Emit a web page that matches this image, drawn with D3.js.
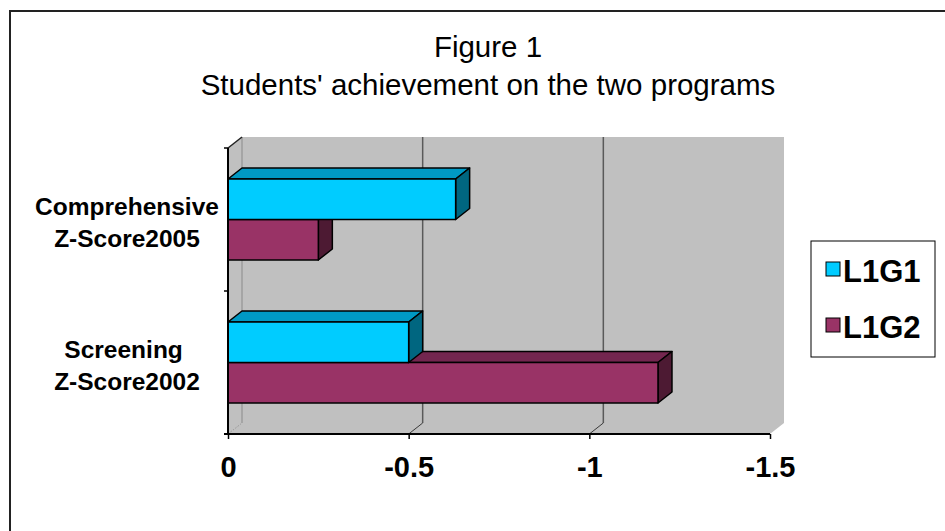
<!DOCTYPE html>
<html>
<head>
<meta charset="utf-8">
<script src="https://cdn.jsdelivr.net/npm/d3@7"></script>
<style>
  html, body { margin: 0; padding: 0; background: #fff; }
  svg { display: block; font-family: "Liberation Sans", Arial, Helvetica, sans-serif; }
</style>
</head>
<body>
<svg id="chart" width="945" height="531"></svg>
<script>
// Chart data
const titleLines = ["Figure 1", "Students' achievement on the two programs"];
const categories = [["Comprehensive", "Z-Score2005"], ["Screening ", "Z-Score2002"]];
const seriesNames = ["L1G1", "L1G2"];
const L1G1 = [-0.63, -0.50];
const L1G2 = [-0.25, -1.19];
const tickValues = [0, -0.5, -1, -1.5];
const tickLabels = ["0", "-0.5", "-1", "-1.5"];

const seriesValues = [L1G1, L1G2];
const colors = {
  front: ["#00CCFF", "#993366"],
  top:   ["#0099C4", "#73264F"],
  side:  ["#006680", "#4D1A33"]
};

const svg = d3.select("#chart");

// Outer chart frame
svg.append("rect")
  .attr("x", 10).attr("y", 11).attr("width", 960).attr("height", 560)
  .attr("fill", "#fff").attr("stroke", "#222").attr("stroke-width", 2);

// Geometry of the 3D plot box
const plotL = 228, plotR = 770, plotT = 148, plotB = 434;
const dx = 14, dy = -11;

const x = d3.scaleLinear().domain([0, -1.5]).range([plotL, plotR]);
const yCat = d3.scaleBand().domain(d3.range(categories.length))
  .range([plotT, plotB]).paddingInner(0.434).paddingOuter(0.217);
const ySer = d3.scaleBand().domain(d3.range(seriesNames.length))
  .range([0, yCat.bandwidth()]);
const step = (plotB - plotT) / categories.length;

const wallFill = "#C0C0C0";
const plot = svg.append("g");

// Back wall, left wall and floor
plot.append("rect")
  .attr("x", plotL + dx).attr("y", plotT + dy)
  .attr("width", plotR - plotL).attr("height", plotB - plotT)
  .attr("fill", wallFill);
plot.append("polygon")
  .attr("points", [[plotL, plotT], [plotL + dx, plotT + dy], [plotL + dx, plotB + dy], [plotL, plotB]].join(" "))
  .attr("fill", wallFill);
plot.append("polygon")
  .attr("points", [[plotL, plotB], [plotL + dx, plotB + dy], [plotR + dx, plotB + dy], [plotR, plotB]].join(" "))
  .attr("fill", wallFill);

// Back wall left edge
plot.append("line")
  .attr("x1", plotL + dx).attr("x2", plotL + dx)
  .attr("y1", plotT + dy).attr("y2", plotB + dy)
  .attr("stroke", "#8a8a8a").attr("stroke-width", 1);

// Gridlines on the back wall and across the floor
tickValues.slice(1, -1).forEach(t => {
  plot.append("line")
    .attr("x1", x(t) + dx).attr("x2", x(t) + dx)
    .attr("y1", plotT + dy).attr("y2", plotB + dy)
    .attr("stroke", "#5a5a5a").attr("stroke-width", 1.5);
});
tickValues.slice(0, -1).forEach(t => {
  plot.append("line")
    .attr("x1", x(t)).attr("y1", plotB)
    .attr("x2", x(t) + dx).attr("y2", plotB + dy)
    .attr("stroke", t === 0 ? "#9a9a9a" : "#3a3a3a")
    .attr("stroke-width", 1)
    .attr("stroke-dasharray", t === 0 ? "2,1" : null);
});

// Top edge of the left wall
plot.append("line")
  .attr("x1", plotL).attr("y1", plotT)
  .attr("x2", plotL + dx).attr("y2", plotT + dy)
  .attr("stroke", "#222").attr("stroke-width", 1.5);

// 3D bars: lower series first so the upper one overlaps it
const bars = plot.append("g");
categories.forEach((cat, ci) => {
  for (let si = seriesNames.length - 1; si >= 0; si--) {
    const v = seriesValues[si][ci];
    const x0 = x(0), x1 = x(v);
    const y0 = yCat(ci) + ySer(si), h = ySer.bandwidth();
    const g = bars.append("g")
      .attr("stroke", "#000").attr("stroke-width", 1.5).attr("stroke-linejoin", "round");
    g.append("polygon")
      .attr("points", [[x0, y0], [x0 + dx, y0 + dy], [x1 + dx, y0 + dy], [x1, y0]].join(" "))
      .attr("fill", colors.top[si]);
    g.append("polygon")
      .attr("points", [[x1, y0], [x1 + dx, y0 + dy], [x1 + dx, y0 + h + dy], [x1, y0 + h]].join(" "))
      .attr("fill", colors.side[si]);
    g.append("rect")
      .attr("x", x0).attr("y", y0).attr("width", x1 - x0).attr("height", h)
      .attr("fill", colors.front[si]);
  }
});

// Value axis along the front floor edge
const xAxis = d3.axisBottom(x)
  .tickValues(tickValues)
  .tickFormat((d, i) => tickLabels[i])
  .tickSize(5).tickSizeOuter(0).tickPadding(17);
const gx = svg.append("g").attr("transform", `translate(0,${plotB})`).call(xAxis);
gx.select(".domain").remove();
gx.selectAll(".tick line").attr("stroke", "#000").attr("stroke-width", 1.5);
gx.selectAll(".tick text")
  .attr("fill", "#000").attr("font-size", 29).attr("font-weight", "bold")
  .attr("font-family", "'Liberation Sans', Arial, sans-serif");
svg.append("line")
  .attr("x1", plotL - 4).attr("x2", plotR).attr("y1", plotB).attr("y2", plotB)
  .attr("stroke", "#000").attr("stroke-width", 2);

// Category axis
svg.append("line")
  .attr("x1", plotL).attr("x2", plotL).attr("y1", plotT).attr("y2", plotB)
  .attr("stroke", "#000").attr("stroke-width", 2);
d3.range(categories.length + 1).forEach(i => {
  svg.append("line")
    .attr("x1", plotL - 4).attr("x2", plotL)
    .attr("y1", plotT + i * step).attr("y2", plotT + i * step)
    .attr("stroke", "#000").attr("stroke-width", 1.5);
});
categories.forEach((lines, ci) => {
  const cy = yCat(ci) + yCat.bandwidth() / 2;
  const t = svg.append("text")
    .attr("x", 127).attr("y", cy - 5)
    .attr("text-anchor", "middle")
    .attr("font-size", 24.5).attr("font-weight", "bold")
    .style("white-space", "pre");
  lines.forEach((ln, li) => {
    t.append("tspan").attr("x", 127).attr("dy", li === 0 ? 0 : 32).text(ln);
  });
});

// Title
svg.append("text")
  .attr("x", 488).attr("y", 57).attr("text-anchor", "middle")
  .attr("font-size", 29.5)
  .selectAll("tspan").data(titleLines).join("tspan")
  .attr("x", 488).attr("dy", (d, i) => i === 0 ? 0 : 38)
  .text(d => d);

// Legend
const legend = svg.append("g");
legend.append("rect")
  .attr("x", 811).attr("y", 241).attr("width", 124).attr("height", 116)
  .attr("fill", "#fff").attr("stroke", "#000").attr("stroke-width", 1);
seriesNames.forEach((name, i) => {
  const ly = 262 + i * 56;
  legend.append("rect")
    .attr("x", 826).attr("y", ly).attr("width", 14).attr("height", 14)
    .attr("fill", colors.front[i]).attr("stroke", "#000").attr("stroke-width", 1);
  legend.append("text")
    .attr("x", 843).attr("y", ly + 20)
    .attr("font-size", 31).attr("font-weight", "bold")
    .text(name);
});
</script>
</body>
</html>
